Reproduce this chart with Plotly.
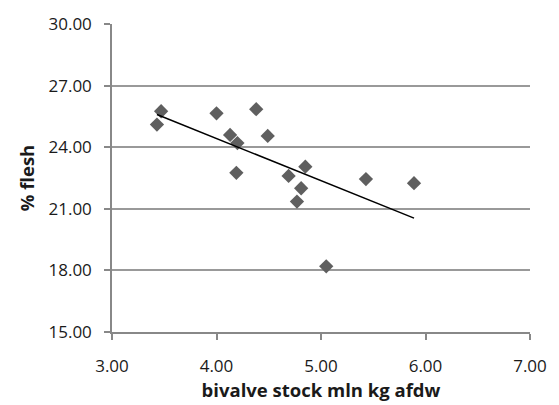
import numpy as np
import plotly.graph_objects as go

stock = [3.43, 3.47, 4.00, 4.38, 4.13, 4.20, 4.49, 4.19, 4.69, 4.85, 4.81, 4.77, 5.05, 5.43, 5.89]
flesh = [25.10, 25.75, 25.65, 25.85, 24.60, 24.20, 24.55, 22.75, 22.60, 23.05, 22.00, 21.35, 18.20, 22.45, 22.25]

x_ticks = [3, 4, 5, 6, 7]
y_ticks = [15, 18, 21, 24, 27, 30]

slope, intercept = np.polyfit(stock, flesh, 1)
tx = [min(stock), max(stock)]
ty = [slope * v + intercept for v in tx]

fig = go.Figure()
fig.add_trace(go.Scatter(x=stock, y=flesh, mode="markers",
                         marker=dict(symbol="diamond", size=11, color="#5f5f5f"),
                         showlegend=False))
fig.add_trace(go.Scatter(x=tx, y=ty, mode="lines",
                         line=dict(color="black", width=1.5), showlegend=False))

font_family = "Open Sans, Liberation Sans, Arial"
fig.update_layout(
    width=559, height=405,
    margin=dict(l=112, r=26, t=19, b=73),
    paper_bgcolor="white", plot_bgcolor="white",
    font=dict(family=font_family, size=17, color="#1a1a1a"),
    xaxis=dict(range=[3, 7], tickvals=x_ticks, tickformat=".2f",
               showgrid=False, zeroline=False,
               showline=True, linecolor="#888888", linewidth=1.5,
               ticks="outside", ticklen=6, tickcolor="#888888", tickwidth=1.5,
               ticklabelstandoff=12,
               title=dict(text="<b>bivalve stock mln kg afdw</b>", font=dict(size=18.5), standoff=2)),
    yaxis=dict(range=[15, 30], tickvals=y_ticks, tickformat=".2f",
               showgrid=True, gridcolor="#999999", gridwidth=1.5, zeroline=False,
               showline=True, linecolor="#888888", linewidth=1.5,
               ticks="outside", ticklen=6, tickcolor="#888888", tickwidth=1.5,
               ticklabelstandoff=9,
               title=dict(text="<b>% flesh</b>", font=dict(size=18.5), standoff=9)),
)

fig.write_html("out.html")
